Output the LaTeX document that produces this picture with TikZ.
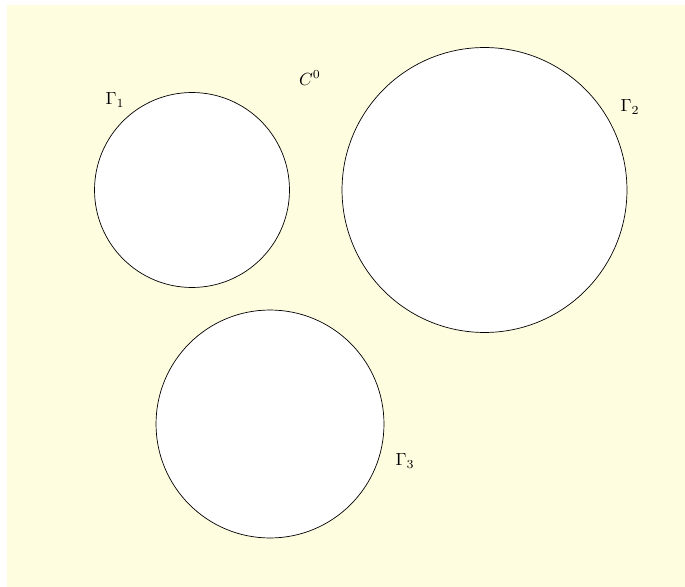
\documentclass[tikz,border=0pt]{standalone}
\usepackage{amsmath, amssymb}
\usepackage{tikz}

\begin{document}
\begin{tikzpicture}[x=0.02cm, y=-0.02cm,
  hole/.style={circle, draw, fill=white, inner sep=0pt, outer sep=0pt},
  lbl/.style={inner sep=1pt}]
  \useasboundingbox (0,0) rectangle (685,587);
  % background domain
  \fill[yellow!12] (7,5) rectangle (685,587);
  % holes
  \node[hole, minimum size=3.9cm] (gamma1) at (192,190) {};
  \node[hole, minimum size=5.7cm] (gamma2) at (484.5,190) {};
  \node[hole, minimum size=4.56cm] (gamma3) at (270,424) {};
  % labels
  \node[lbl] (l1) at (115,100) {$\Gamma_1$};
  \node[lbl] (l2) at (630,107) {$\Gamma_2$};
  \node[lbl] (l3) at (405,461) {$\Gamma_3$};
  \node[lbl] (c0) at (310,78) {$C^0$};
\end{tikzpicture}
\end{document}
